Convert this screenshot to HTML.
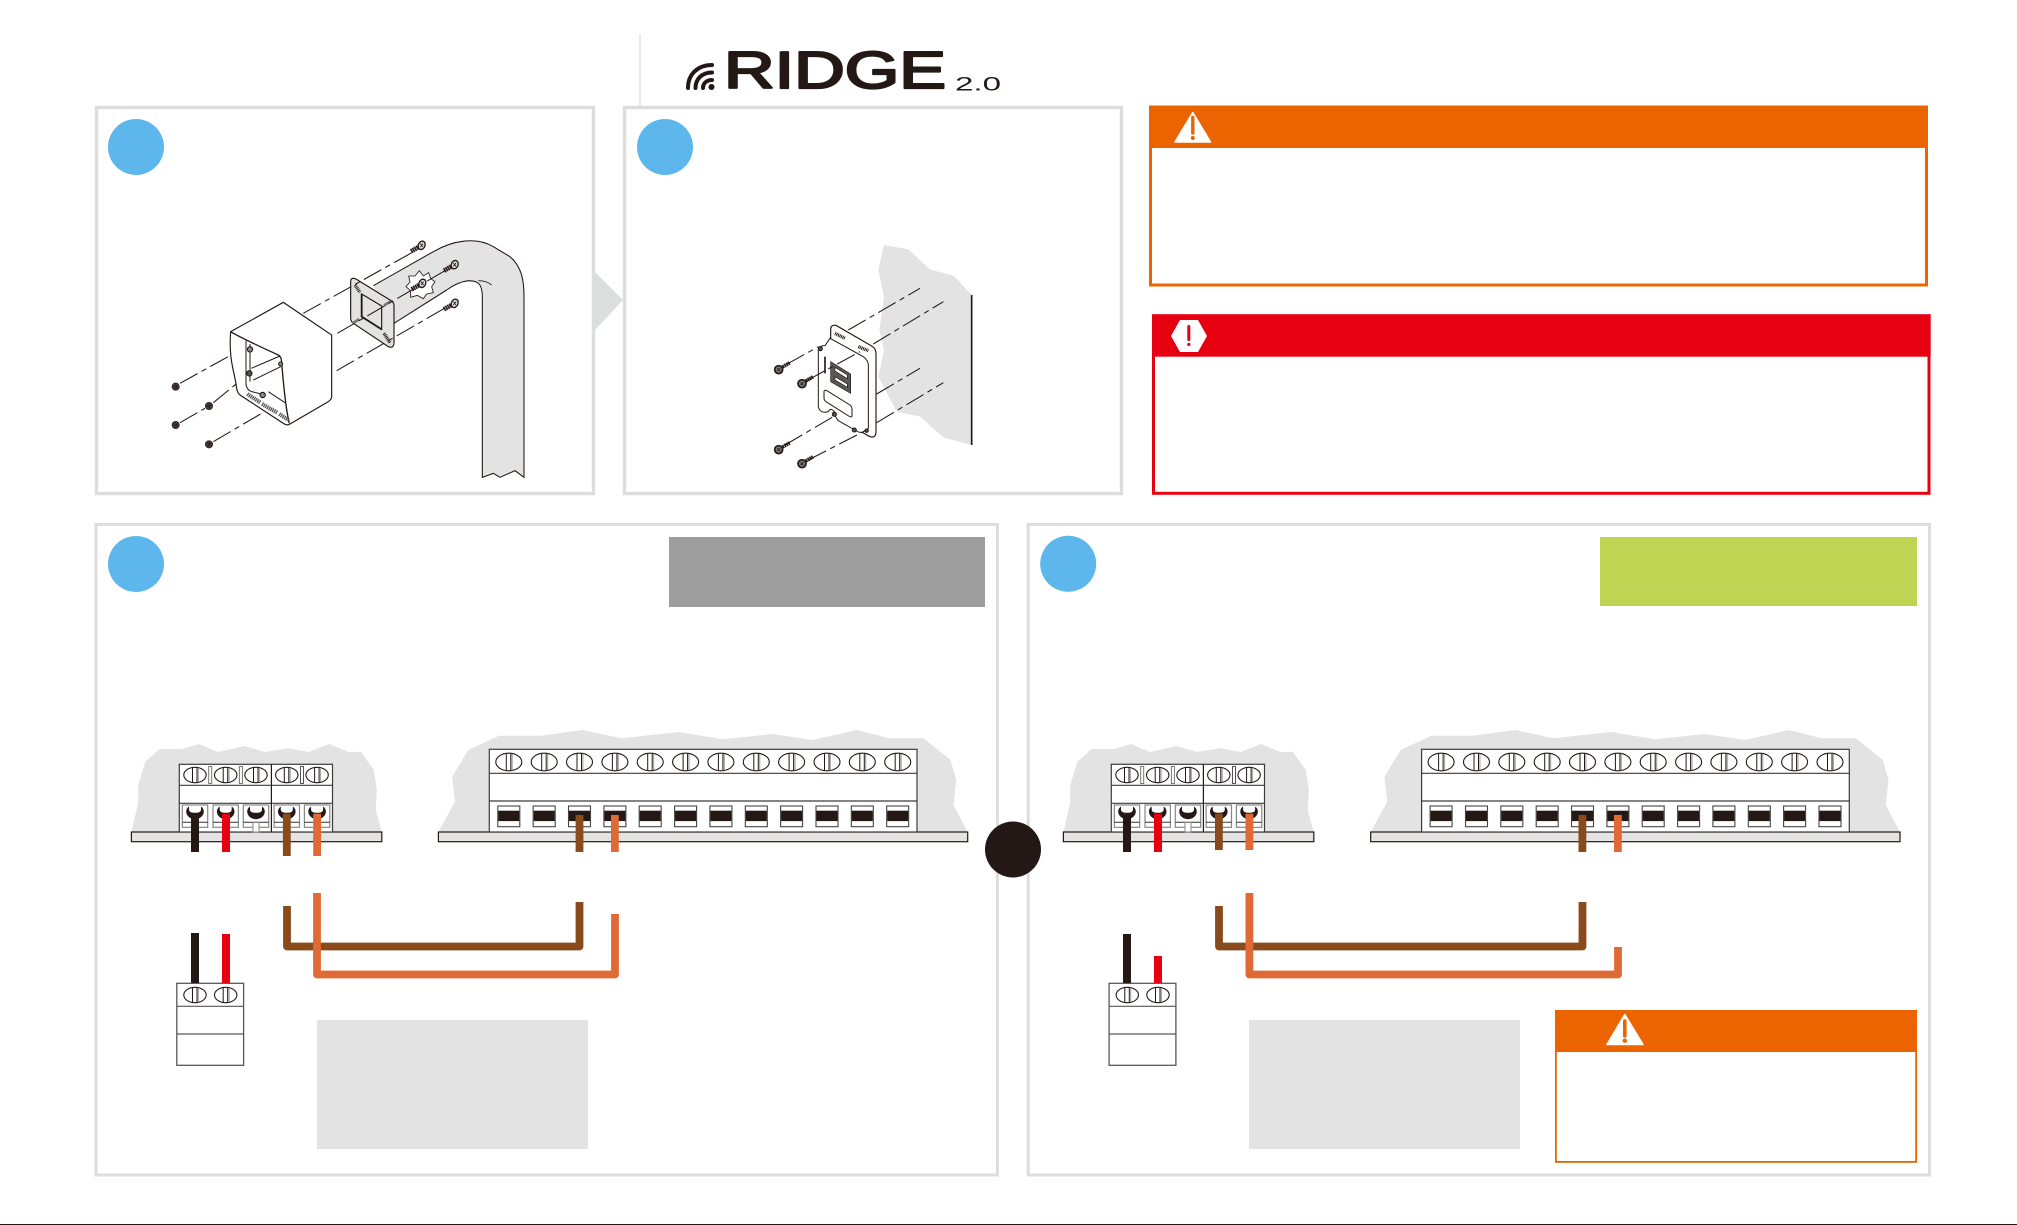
<!DOCTYPE html>
<html lang="en">
<head>
<meta charset="utf-8">
<title>RIDGE 2.0 installation</title>
<style>
html,body{margin:0;padding:0;background:#fff;width:2017px;height:1225px;overflow:hidden}
svg{display:block}
</style>
</head>
<body>
<svg xmlns="http://www.w3.org/2000/svg" width="2017" height="1225" viewBox="0 0 2017 1225">
<defs>
  <g id="s5"><ellipse rx="11.2" ry="7.7" fill="#fff" stroke="#231815" stroke-width="1.1"/><path d="M-2.5-7.2V7.2M2-7.2V7.2" stroke="#231815" stroke-width="1" fill="none"/><path d="M3.4-7V7" stroke="#aaa" stroke-width="1.2"/></g>
  <g id="s12"><ellipse rx="13" ry="8.8" fill="#fff" stroke="#231815" stroke-width="1.1"/><path d="M-2.5-8.3V8.3M2-8.3V8.3" stroke="#231815" stroke-width="1" fill="none"/><path d="M3.4-8V8" stroke="#aaa" stroke-width="1.2"/></g>
  <g id="sock5"><rect x="-12.7" y="805" width="25.4" height="22.3" fill="#fff" stroke="#888" stroke-width="1.2"/><path d="M-12.7 822.3H12.7" stroke="#333" stroke-width="1"/><path d="M-8.8 811.5C-8.8 816 -4.5 819.2 0 819.2S8.8 816 8.8 811.5C8.8 809 7 806.7 6 806.7V809.5C6 811.8 4 812.8 0 812.8S-6 811.8 -6 809.5V806.7C-7 806.7 -8.8 809 -8.8 811.5Z" fill="#231815"/></g>
  <g id="sock12"><rect x="-11" y="806" width="22" height="20.7" fill="#fff" stroke="#444" stroke-width="1.1"/><rect x="-10.5" y="810.7" width="21" height="10.4" fill="#231815"/></g>
  <g id="tb5">
    <path d="M131.4 832L138.2 803 138.2 785 145.4 761.7 159.6 749 182 749 199 744 218 752 244.3 746 265 752 288.2 748.3 308.6 752 329.3 744 349 752.3 360.7 751.7 373.9 770 376.8 790 375.7 810 381.8 832Z" fill="#e3e3e3"/>
    <rect x="131.4" y="832" width="250.4" height="9.7" fill="#e3e3e3" stroke="#231815" stroke-width="1.2"/>
    <rect x="179.3" y="764.3" width="153.2" height="67.7" fill="#fff" stroke="#3e3a39" stroke-width="1.2"/>
    <path d="M179.3 785.3H332.5M179.3 803.3H332.5" stroke="#3e3a39" stroke-width="1.2"/>
    <path d="M271.4 764.3V832" stroke="#231815" stroke-width="1.2"/>
    <use href="#s5" x="195" y="775"/><use href="#s5" x="225.7" y="775"/><use href="#s5" x="256" y="775"/><use href="#s5" x="286.8" y="775"/><use href="#s5" x="317.1" y="775"/>
    <rect x="208.7" y="766.5" width="3" height="17" fill="#fff" stroke="#777"/><rect x="239.4" y="766.5" width="3" height="17" fill="#fff" stroke="#777"/><rect x="300.5" y="766.5" width="3" height="17" fill="#fff" stroke="#555"/>
    <use href="#sock5" x="195"/><use href="#sock5" x="225.7"/><use href="#sock5" x="256"/><use href="#sock5" x="286.8"/><use href="#sock5" x="317.1"/>
    <rect x="253" y="822.5" width="6" height="9.5" fill="#fff" stroke="#888"/>
  </g>
  <g id="tb12">
    <path d="M438.4 832L454.9 801.7 452.2 776.7 468.3 750 499 735.7 541 735.7 583 730 621.4 738.3 679 732 722.8 739.3 772.5 734 812.7 740 856.8 730 889.2 738.3 923.6 738.3 950.5 760 956.2 780 953.5 805 967.7 832Z" fill="#e3e3e3"/>
    <rect x="438.4" y="832" width="529.3" height="9.7" fill="#e3e3e3" stroke="#231815" stroke-width="1.2"/>
    <rect x="489.3" y="749.3" width="427.7" height="82.7" fill="#fff" stroke="#3e3a39" stroke-width="1.2"/>
    <path d="M489.3 773.3H917M489.3 801H917" stroke="#3e3a39" stroke-width="1.2"/>
    <use href="#s12" x="508.8" y="762"/><use href="#s12" x="544.2" y="762"/><use href="#s12" x="579.5" y="762"/><use href="#s12" x="614.9" y="762"/><use href="#s12" x="650.2" y="762"/><use href="#s12" x="685.6" y="762"/><use href="#s12" x="720.9" y="762"/><use href="#s12" x="756.3" y="762"/><use href="#s12" x="791.6" y="762"/><use href="#s12" x="827" y="762"/><use href="#s12" x="862.3" y="762"/><use href="#s12" x="897.7" y="762"/>
    <use href="#sock12" x="508.8"/><use href="#sock12" x="544.2"/><use href="#sock12" x="579.5"/><use href="#sock12" x="614.9"/><use href="#sock12" x="650.2"/><use href="#sock12" x="685.6"/><use href="#sock12" x="720.9"/><use href="#sock12" x="756.3"/><use href="#sock12" x="791.6"/><use href="#sock12" x="827"/><use href="#sock12" x="862.3"/><use href="#sock12" x="897.7"/>
  </g>
  <g id="plug">
    <rect x="176.8" y="983.3" width="66.8" height="82" fill="#fff" stroke="#595757" stroke-width="1.3"/>
    <path d="M176.8 1006.3H243.6M176.8 1034H243.6" stroke="#595757" stroke-width="1.2"/>
    <use href="#s5" x="195" y="995"/><use href="#s5" x="225.7" y="995"/>
  </g>
  <g id="scr"><path d="M-32 18L-4 2" stroke="#231815" stroke-width="14" stroke-dasharray="5 1.5"/><ellipse rx="10" ry="13" transform="rotate(25)" fill="#ddd" stroke="#231815" stroke-width="4"/><path d="M-4-5L4 5M4-5L-4 5" stroke="#231815" stroke-width="2.500"/></g>
  <g id="nut"><circle r="11" fill="#3e3a39" stroke="#231815" stroke-width="2"/><circle r="3" fill="#777"/></g>
  <g id="wscr"><path d="M6-5L34-21" stroke="#231815" stroke-width="11" stroke-dasharray="5 1.5"/><circle r="12" fill="#777" stroke="#231815" stroke-width="5"/><path d="M-4-4L4 4M4-4L-4 4" stroke="#231815" stroke-width="2.500"/></g>
</defs>

<rect width="2017" height="1225" fill="#fff"/>
<rect x="0" y="1224" width="2017" height="1" fill="#231815"/>

<!-- header divider + logo -->
<path d="M640 34V106" stroke="#dcdddd" stroke-width="1.2"/>
<g fill="none" stroke="#231815" stroke-width="4" stroke-linecap="round">
  <path d="M688 88C688 74 698 65 712 65"/><path d="M695.5 88C695.5 79 702 72.5 712 72.5"/><path d="M703 88C703 83 707 80 712 80"/>
</g>
<circle cx="711.5" cy="87" r="3" fill="#231815"/>
<text x="724" y="88" font-family="'Liberation Sans',sans-serif" font-size="52" fill="#231815" stroke="#231815" stroke-width="2.200" stroke-linejoin="round" textLength="222" lengthAdjust="spacingAndGlyphs">RIDGE</text>
<text x="955" y="90.500" font-family="'Liberation Sans',sans-serif" font-size="19" fill="#231815" textLength="46" lengthAdjust="spacingAndGlyphs">2.0</text>

<!-- top panels -->
<path d="M595 272L623 300 595 330Z" fill="#dcdddd"/>
<rect x="96.500" y="107.500" width="497" height="386" fill="none" stroke="#dcdddd" stroke-width="3.400"/>
<rect x="624.500" y="107.500" width="497" height="386" fill="none" stroke="#dcdddd" stroke-width="3.400"/>
<circle cx="136" cy="147" r="28" fill="#5db7ec"/>
<circle cx="665" cy="147" r="28" fill="#5db7ec"/>

<!-- illustration A -->
<g transform="translate(160,220) scale(.33333)" fill="none" stroke="#231815" stroke-width="3.200">
  <path d="M640 197L820 95C880 60 950 50 1000 80L1050 110C1085 140 1092 180 1092 230V772L1065 752 1020 772 1000 760 967 772V225C965 195 955 180 925 182C900 185 880 195 860 210L700 310Z" fill="#e3e3e3" stroke="none"/>
  <path d="M640 197L820 95C880 60 950 50 1000 80L1050 110C1085 140 1092 180 1092 230V772L1065 752 1020 772 1000 760 967 772V225C965 195 958 182 925 182C900 185 880 195 860 210L702 310"/>
  <path d="M955 182Q980 182 995 195" stroke-width="2.500"/>
  <path d="M572 182Q575 170 590 178L695 243Q702 248 702 258V370Q700 386 685 380L580 310Q572 303 572 295Z" fill="#e3e3e3" stroke-width="3.500"/>
  <path d="M605 222L665 258V328L605 290Z" fill="#e3e3e3" stroke-width="3.500"/>
  <path d="M605 222V290L665 328" stroke-width="5.500"/>
  <path d="M585 195L600 217M672 340L690 368" stroke-width="10" stroke-dasharray="3 2"/>
  <path d="M672 256L692 244M578 310L598 297" stroke="#777" stroke-width="8"/>
  <path d="M778 152L790 168 806 158 812 176 825 185 815 200 820 218 800 222 790 236 772 226 752 232 752 212 738 200 750 186 746 168 765 168Z" fill="#fff" stroke-width="2.500"/>
  <path d="M430 280L770 90M532 340L862 148M530 452L862 260" stroke-dasharray="60 14 16 14"/>
  <path d="M60 490L262 378M60 608L135 565M160 548L265 462M160 665L305 580" stroke-dasharray="60 14 16 14"/>
  <path d="M212 335L370 247 515 345V530Q515 540 500 548L390 612Q380 618 370 610L240 525Q232 518 230 505C225 460 205 420 212 335Z" fill="#fff" stroke-width="3.500"/>
  <path d="M212 335C240 352 300 380 355 405Q365 410 365 430C370 480 375 560 388 610" stroke-width="4"/>
  <path d="M258 362V490Q258 508 275 515L305 522M270 372V485M274 445L360 408M280 480L362 440M325 515L375 548" stroke-width="3"/>
  <path d="M262 522L302 548M306 552L352 578M358 582L385 600" stroke="#595757" stroke-width="12" stroke-dasharray="4 2"/>
  <circle cx="270" cy="388" r="8" fill="#888"/><circle cx="268" cy="460" r="8" fill="#555"/><circle cx="308" cy="525" r="8" fill="#888"/>
  <circle cx="362" cy="432" r="6" fill="#888"/>
  <use href="#scr" x="785" y="76"/><use href="#scr" x="884" y="134"/><use href="#scr" x="884" y="250"/><use href="#scr" x="787" y="190"/>
  <use href="#nut" x="47" y="500"/><use href="#nut" x="147" y="558"/><use href="#nut" x="47" y="615"/><use href="#nut" x="147" y="673"/>
</g>

<!-- illustration B -->
<g transform="translate(740,230) scale(.33333)" fill="none" stroke="#231815" stroke-width="3.200">
  <path d="M432 45L505 58 570 118 642 138 695 195V645L610 622 540 560 470 545 415 440 432 360 418 300 432 200 415 120Z" fill="#e3e3e3" stroke="none"/>
  <path d="M695 195V645" stroke-width="5"/>
  <path d="M325 300L540 175M400 342L610 215M410 492L540 415M410 578L610 458" stroke-dasharray="60 14 16 14"/>
  <path d="M272 300Q272 283 288 286L395 348Q408 355 408 372V605Q408 625 390 620L300 570 272 400Z" fill="#fff" stroke-width="3.500"/>
  <path d="M235 360Q240 345 255 347L270 325 370 380Q385 392 385 405V595L370 605Q360 610 350 603L295 572Q285 562 285 548Q272 530 265 545Q240 552 235 530Z" fill="#fff" stroke-width="3"/>
  <path d="M272 395L332 432V490L272 455Z" fill="#595757" stroke-width="2"/>
  <path d="M285 412L322 435V446L285 423ZM285 440L322 462V472L285 450Z" fill="#fff" stroke-width="2"/>
  <path d="M252 485Q252 478 262 483L330 525Q336 530 336 538V556Q336 564 326 558L258 515Q252 510 252 505Z" fill="#fff" stroke-width="3"/>
  <path d="M255 380V430" stroke-width="5"/>
  <path d="M285 310L315 325M355 350L385 362" stroke-width="10" stroke-dasharray="3 2"/>
  <path d="M140 403L235 350M200 452L360 365M135 645L280 560M205 690L380 600" stroke-dasharray="60 14 16 14"/>
  <circle cx="241" cy="356" r="6" fill="#555"/><circle cx="283" cy="553" r="6" fill="#555"/><circle cx="343" cy="600" r="6" fill="#555"/><circle cx="380" cy="602" r="5" fill="#555"/>
  <use href="#wscr" x="116" y="419"/><use href="#wscr" x="186" y="461"/><use href="#wscr" x="116" y="659"/><use href="#wscr" x="186" y="701"/>
</g>

<!-- caution orange -->
<rect x="1150.500" y="107" width="776" height="178" fill="#fff" stroke="#ec6400" stroke-width="3"/>
<rect x="1149" y="105.500" width="779" height="42.500" fill="#ec6400"/>
<path d="M1192.800 112.500L1175 142H1210.500Z" fill="#fff" stroke="#fff" stroke-width="1.500" stroke-linejoin="round"/>
<path d="M1192.800 117.500V133" stroke="#ec6400" stroke-width="3.400" stroke-linecap="round"/>
<circle cx="1192.800" cy="138" r="2" fill="#ec6400"/>

<!-- warning red -->
<rect x="1153.500" y="315.800" width="775.500" height="177.500" fill="#fff" stroke="#e60012" stroke-width="3"/>
<rect x="1152" y="314.300" width="778.700" height="42.400" fill="#e60012"/>
<path d="M1171 336L1180 320H1198L1207 336 1198 352H1180Z" fill="#fff"/>
<path d="M1188.800 326.500V339.500" stroke="#e60012" stroke-width="3" stroke-linecap="round"/>
<circle cx="1188.800" cy="344.500" r="1.600" fill="#e60012"/>

<!-- lower panel frames -->
<rect x="96" y="524.500" width="901.500" height="650.500" fill="none" stroke="#dcdddd" stroke-width="3"/>
<rect x="1028.200" y="524.500" width="901.300" height="650.500" fill="none" stroke="#dcdddd" stroke-width="3"/>
<circle cx="136" cy="564" r="28" fill="#5db7ec"/>
<circle cx="1068.200" cy="563.800" r="28" fill="#5db7ec"/>
<circle cx="1013" cy="849.500" r="28" fill="#231815"/>
<rect x="669" y="537" width="316" height="70" fill="#9e9e9e"/>
<rect x="1600" y="537" width="317" height="69" fill="#bed452"/>

<!-- left wiring -->
<use href="#tb5"/>
<use href="#tb12"/>
<rect x="191" y="813" width="8" height="39" fill="#231815"/>
<rect x="222" y="813.700" width="8" height="38.300" fill="#e60012"/>
<rect x="282.900" y="813.700" width="7.800" height="42.300" fill="#8a4b1c"/>
<rect x="313.200" y="813.700" width="7.800" height="42.300" fill="#e06a35"/>
<rect x="575.600" y="815" width="7.800" height="37" fill="#8a4b1c"/>
<rect x="611" y="815" width="7.800" height="37" fill="#e06a35"/>
<path d="M287 906V946.500H579.500V902" fill="none" stroke="#8a4b1c" stroke-width="7.800" stroke-linejoin="round"/>
<path d="M317 893V974.500H615V914" fill="none" stroke="#e06a35" stroke-width="7.800" stroke-linejoin="round"/>
<use href="#plug"/>
<rect x="191" y="933" width="8" height="50" fill="#231815"/>
<rect x="222" y="934" width="8" height="49" fill="#e60012"/>
<rect x="317" y="1020" width="271" height="129" fill="#e3e3e3"/>

<!-- right wiring -->
<use href="#tb5" x="932"/>
<use href="#tb12" x="932.300"/>
<rect x="1123" y="813" width="8" height="39" fill="#231815"/>
<rect x="1154" y="813.700" width="8" height="38.300" fill="#e60012"/>
<rect x="1215" y="813.700" width="7.800" height="36.300" fill="#8a4b1c"/>
<rect x="1245.500" y="813.700" width="7.800" height="36.300" fill="#e06a35"/>
<rect x="1578.500" y="815" width="7.800" height="37" fill="#8a4b1c"/>
<rect x="1614" y="815" width="7.800" height="37" fill="#e06a35"/>
<path d="M1219 906V946.500H1582.500V902" fill="none" stroke="#8a4b1c" stroke-width="7.800" stroke-linejoin="round"/>
<path d="M1249.400 893V974.500H1618V947" fill="none" stroke="#e06a35" stroke-width="7.800" stroke-linejoin="round"/>
<use href="#plug" x="932.300"/>
<rect x="1123" y="934" width="8" height="49" fill="#231815"/>
<rect x="1154" y="956" width="8" height="27" fill="#e60012"/>
<rect x="1249" y="1020" width="271" height="129" fill="#e3e3e3"/>

<!-- small caution -->
<rect x="1555.900" y="1010.900" width="360.200" height="151" fill="#fff" stroke="#ec6400" stroke-width="1.800"/>
<rect x="1555" y="1010" width="362" height="42" fill="#ec6400"/>
<path d="M1624.800 1014.500L1607 1044.500H1643Z" fill="#fff" stroke="#fff" stroke-width="1.500" stroke-linejoin="round"/>
<path d="M1624.800 1021V1036" stroke="#ec6400" stroke-width="3.600" stroke-linecap="round"/>
<circle cx="1624.800" cy="1040.700" r="2.200" fill="#ec6400"/>
</svg>
</body>
</html>
